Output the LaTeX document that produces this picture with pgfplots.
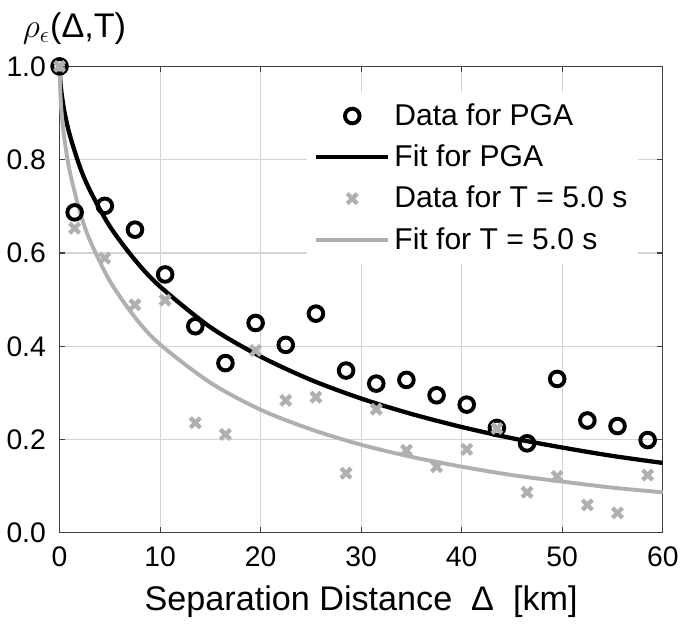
\documentclass[border=0pt]{standalone}
\usepackage{fontspec}
\setmainfont{Liberation Sans}
\usepackage{pgfplots}
\pgfplotsset{compat=1.18}
\definecolor{lgray}{RGB}{176,176,176}
\definecolor{gridc}{RGB}{212,212,212}
\pgfplotsset{
  linelegend/.style={legend image code/.code={\draw[##1] (0pt,0pt) -- (37pt,0pt);}},
  marklegend/.style={legend image code/.code={\draw[##1,mark repeat=2,mark phase=2] plot coordinates {(0pt,0pt)(18.5pt,0pt)(37pt,0pt)};}},
}
\begin{document}
\begin{tikzpicture}
\begin{axis}[
  scale only axis, width=309pt, height=239pt,
  xmin=0, xmax=60, ymin=0, ymax=1,
  xtick={0,10,...,60}, ytick={0,0.2,0.4,0.6,0.8,1.0},
  yticklabel style={xshift=-3.5pt, /pgf/number format/.cd,fixed,fixed zerofill,precision=1},
  xticklabel style={yshift=-3.5pt},
  /pgf/number format/assume math mode=true,
  tick label style={font=\fontsize{14.5}{17}\selectfont},
  grid=major, major grid style={gridc, line width=0.6pt},
  axis line style={black!75, line width=0.6pt},
  tick style={black!75, line width=0.6pt},
  major tick length=3pt, tick align=inside,
  xlabel={Separation Distance\ \ Δ\ \ [km]},
  xlabel style={font=\fontsize{17.5}{20}\selectfont, yshift=-3pt},
  clip=false,
  legend cell align=left,
  legend style={draw=none, fill=white, at={(rel axis cs:0.960,0.946)}, anchor=north east,
    font=\fontsize{15.4}{18}\selectfont, row sep=4.5pt, inner xsep=3.5pt, inner ysep=4pt},
]
\addplot[only marks, mark=o, mark size=3.75pt, mark options={line width=2pt, black}, marklegend]
coordinates {
(0,1.0) (1.5,0.687) (4.5,0.701) (7.5,0.650) (10.5,0.554) (13.5,0.443) (16.5,0.364)
(19.5,0.450) (22.5,0.403) (25.5,0.470) (28.5,0.348) (31.5,0.320) (34.5,0.328)
(37.5,0.295) (40.5,0.275) (43.5,0.225) (46.5,0.192) (49.5,0.330) (52.5,0.241)
(55.5,0.229) (58.5,0.199)};
\addlegendentry{Data for PGA}
\addplot[black, line width=2.2pt, smooth, linelegend]
coordinates {
(0,1.0) (0.1,0.962) (0.25,0.934) (0.5,0.901) (1,0.854) (2,0.786) (3,0.735) (5,0.657)
(7.5,0.585) (10,0.528) (15,0.441) (20,0.378) (25,0.328) (30,0.288) (35,0.255)
(40,0.227) (45,0.203) (50,0.183) (55,0.165) (60,0.150)};
\addlegendentry{Fit for PGA}
\addplot[only marks, mark=x, mark size=3.6pt, mark options={line width=2.2pt, lgray}, marklegend]
coordinates {
(0,1.0) (1.5,0.653) (4.5,0.589) (7.5,0.489) (10.5,0.499) (13.5,0.236) (16.5,0.211)
(19.5,0.391) (22.5,0.284) (25.5,0.291) (28.5,0.128) (31.5,0.265) (34.5,0.177)
(37.5,0.142) (40.5,0.179) (43.5,0.224) (46.5,0.087) (49.5,0.121) (52.5,0.060)
(55.5,0.043) (58.5,0.124)};
\addlegendentry{Data for T = 5.0 s}
\addplot[lgray, line width=2pt, smooth, linelegend]
coordinates {
(0,1.0) (0.1,0.932) (0.25,0.889) (0.5,0.842) (1,0.776) (2,0.690) (3,0.628) (5,0.540)
(7.5,0.462) (10,0.404) (15,0.322) (20,0.264) (25,0.222) (30,0.189) (35,0.163)
(40,0.142) (45,0.124) (50,0.110) (55,0.097) (60,0.087)};
\addlegendentry{Fit for T = 5.0 s}
\node[anchor=south west, inner sep=0pt, font=\fontsize{17.5}{21}\selectfont]
  at (rel axis cs:0,1) [xshift=-19pt, yshift=11pt] {$\rho_\epsilon$(Δ,T)};
\path (rel axis cs:0,1) ++(0pt,34pt) coordinate (tp);
\useasboundingbox (current bounding box.south west) rectangle (current bounding box.north east |- tp);
\end{axis}
\end{tikzpicture}
\end{document}
